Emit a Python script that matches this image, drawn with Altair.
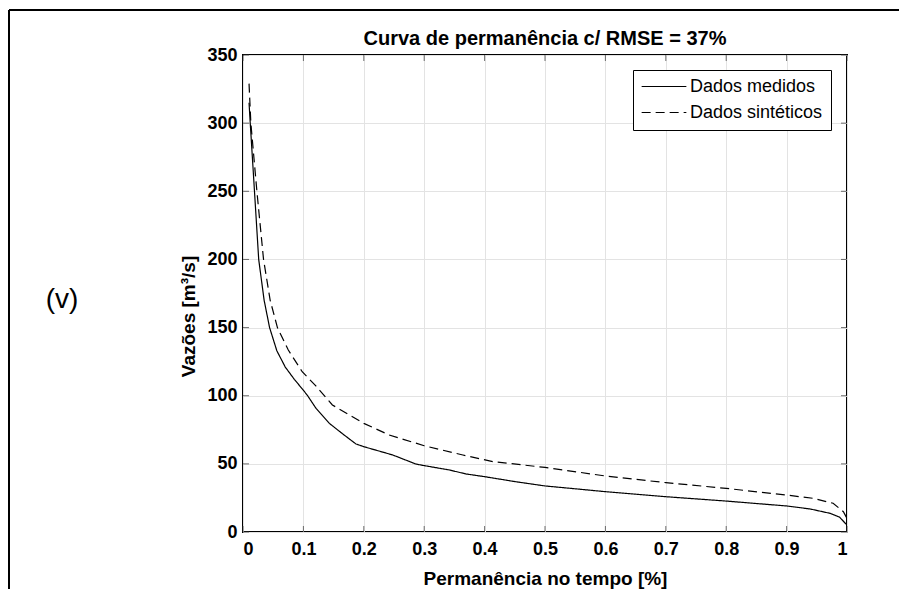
import altair as alt
import pandas as pd

# ---- data ----
measured_x = [0.010, 0.012, 0.019, 0.026, 0.035, 0.044, 0.056, 0.070, 0.085, 0.100, 0.107,
              0.121, 0.143, 0.165, 0.187, 0.200, 0.248, 0.286, 0.300, 0.342, 0.369, 0.400,
              0.450, 0.500, 0.600, 0.700, 0.800, 0.900, 0.939, 0.972, 0.988, 1.000]
measured_y = [315, 300, 250, 200, 170, 150, 133, 121, 112, 104, 100,
              90.7, 79.7, 72, 64.6, 62.6, 56.5, 49.9, 48.7, 45.5, 42.6, 40.6,
              37, 33.8, 29.6, 25.9, 22.7, 19.1, 16.9, 13.7, 10.8, 5]

synthetic_x = [0.010, 0.013, 0.023, 0.034, 0.045, 0.057, 0.075, 0.098, 0.121, 0.148, 0.200,
               0.242, 0.300, 0.364, 0.414, 0.500, 0.600, 0.700, 0.800, 0.900, 0.944, 0.977,
               0.994, 1.000]
synthetic_y = [329, 300, 250, 200, 170, 150, 133.5, 117.6, 107, 93.2, 79.7,
               71.2, 63.3, 56.5, 51.6, 47.4, 41.1, 36.2, 32, 27.1, 24.7, 21.1,
               14.9, 10]

series_names = ["Dados medidos", "Dados sintéticos"]
x_ticks = [0, 0.1, 0.2, 0.3, 0.4, 0.5, 0.6, 0.7, 0.8, 0.9, 1]
y_ticks = [0, 50, 100, 150, 200, 250, 300, 350]

title_text = "Curva de permanência c/ RMSE = 37%"
x_title = "Permanência no tempo [%]"
y_title = "Vazões [m³/s]"
panel_label = "(v)"

df = pd.concat([
    pd.DataFrame({"x": measured_x, "y": measured_y, "serie": series_names[0], "ord": range(len(measured_x))}),
    pd.DataFrame({"x": synthetic_x, "y": synthetic_y, "serie": series_names[1], "ord": range(len(synthetic_x))}),
])

W, H = 604, 477
FONT = "Liberation Sans"

xs = alt.Scale(domain=[0, 1], nice=False, zero=False)
ys = alt.Scale(domain=[0, 350], nice=False)

lines = alt.Chart(df).mark_line(color="black", strokeWidth=1.2, clip=True).encode(
    x=alt.X("x:Q", scale=xs,
            axis=alt.Axis(values=x_ticks, format=".1~f", title=x_title, grid=True,
                          gridColor="#e3e3e3", tickSize=0, labelPadding=8,
                          titleX=W / 2, titleY=46, titleBaseline="middle",
                          titleAlign="center")),
    y=alt.Y("y:Q", scale=ys,
            axis=alt.Axis(values=y_ticks, title=y_title, grid=True,
                          gridColor="#e3e3e3", tickSize=0, labelPadding=6,
                          titleX=-55, titleY=261, titleBaseline="middle",
                          titleAlign="center", titleAngle=270)),
    strokeDash=alt.StrokeDash("serie:N",
        scale=alt.Scale(domain=series_names, range=[[1, 0], [9, 5]]),
        legend=alt.Legend(title=None, orient="none", legendX=390, legendY=15,
                          strokeColor="black", fillColor="white", padding=8,
                          symbolType="stroke", symbolSize=2000, symbolStrokeWidth=1.2,
                          symbolStrokeColor="black", labelFontSize=18, labelFont=FONT,
                          clipHeight=17, rowPadding=7, labelOffset=3)),
    order="ord:Q",
)

tdf_x = pd.DataFrame({"t": x_ticks})
tdf_y = pd.DataFrame({"t": y_ticks})
tick_bottom = alt.Chart(tdf_x).mark_tick(color="#333", size=6, thickness=1, yOffset=-3).encode(
    x=alt.X("t:Q", scale=xs), y=alt.value(H))
tick_top = alt.Chart(tdf_x).mark_tick(color="#333", size=6, thickness=1, yOffset=3).encode(
    x=alt.X("t:Q", scale=xs), y=alt.value(0))
tick_left = alt.Chart(tdf_y).mark_tick(color="#333", size=6, thickness=1, xOffset=3).encode(
    y=alt.Y("t:Q", scale=ys), x=alt.value(0))
tick_right = alt.Chart(tdf_y).mark_tick(color="#333", size=6, thickness=1, xOffset=-3).encode(
    y=alt.Y("t:Q", scale=ys), x=alt.value(W))

# outer frame (page coords -> chart coords: origin at page (243, 55))
frame_top = alt.Chart(tdf_x).mark_rule(color="black", strokeWidth=1.5).encode(
    x=alt.value(9 - 243), x2=alt.value(907 - 243), y=alt.value(10 - 55))
frame_left = alt.Chart(tdf_x).mark_rule(color="black", strokeWidth=1.5).encode(
    x=alt.value(9 - 243), y=alt.value(10 - 55), y2=alt.value(589 - 55))

label = alt.Chart(pd.DataFrame({"t": [panel_label]})).mark_text(
    font=FONT, fontSize=28, align="center", baseline="middle", color="black").encode(
    text="t:N", x=alt.value(62 - 243), y=alt.value(300 - 55))

title = alt.Chart(pd.DataFrame({"t": [title_text]})).mark_text(
    font=FONT, fontSize=20, fontWeight="bold", align="center", baseline="middle",
    color="black").encode(
    text="t:N", x=alt.value(W / 2), y=alt.value(39 - 55))

chart = alt.layer(lines, tick_bottom, tick_top, tick_left, tick_right,
                  frame_top, frame_left, label, title).properties(
    width=W, height=H,
    autosize=alt.AutoSizeParams(type="none"),
    padding={"left": 235, "top": 47, "right": 52, "bottom": 57},
).configure_view(stroke="black", strokeWidth=2).configure_axis(
    domain=False, labelFont=FONT, labelFontSize=18, labelFontWeight="bold",
    labelColor="black", titleFont=FONT, titleFontSize=19, titleFontWeight="bold",
    titleColor="black",
)

chart.save("out.html", embed_options={"renderer": "svg", "actions": False})
